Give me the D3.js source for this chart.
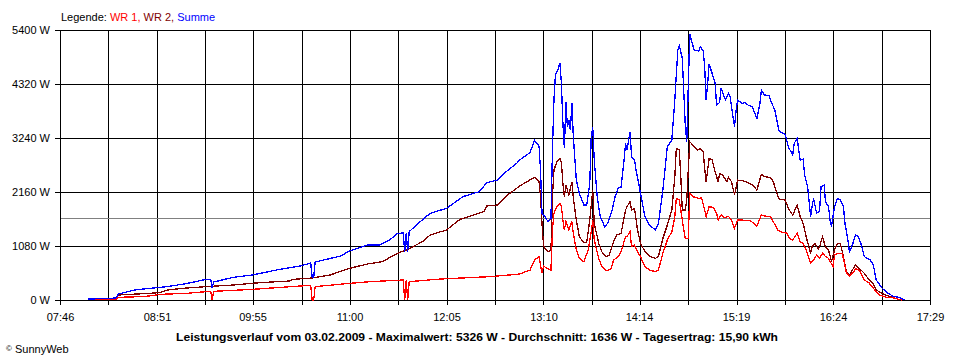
<!DOCTYPE html>
<html><head><meta charset="utf-8">
<script src="https://cdn.jsdelivr.net/npm/d3@7"></script>
<style>
body{margin:0;background:#fff}
text{font-family:Arial,"Liberation Sans",sans-serif;font-size:11px;fill:#000}
</style>
</head><body>
<svg id="chart" width="960" height="360"></svg>
<script>
const xTickLabels = ["07:46","08:51","09:55","11:00","12:05","13:10","14:14","15:19","16:24","17:29"];
const yTickValues = [0,1080,2160,3240,4320,5400];
const average = 1636;
const titleText = "Leistungsverlauf vom 03.02.2009 - Maximalwert: 5326 W - Durchschnitt: 1636 W - Tagesertrag: 15,90 kWh";
const seriesNames = ["WR 1","WR 2","Summe"];

const wr1 = [["08:06",10],["08:24",20],["08:25",53],["08:40",67],["08:46",80],["08:53",113],["09:11",133],["09:24",167],["09:27",167],["09:28",0],["09:29",173],["09:55",213],["10:27",280],["10:34",290],["10:35",0],["10:36",0],["10:37",267],["11:00",333],["11:14",367],["11:36",400],["11:37",0],["11:38",390],["11:39",0],["11:40",367],["12:01",420],["12:34",467],["12:52",513],["12:54",520],["13:01",600],["13:04",800],["13:07",867],["13:09",533],["13:10",680],["13:12",640],["13:15",600],["13:16",1400],["13:17",1733],["13:19",1867],["13:21",1933],["13:22",1870],["13:23",1600],["13:24",1400],["13:25",1567],["13:27",1400],["13:29",1567],["13:30",1333],["13:32",1000],["13:34",833],["13:37",767],["13:40",1000],["13:42",1367],["13:43",1600],["13:44",1200],["13:47",833],["13:49",667],["13:52",587],["13:55",610],["13:57",800],["14:00",867],["14:02",967],["14:05",1267],["14:06",1267],["14:08",1367],["14:09",1067],["14:11",1100],["14:13",967],["14:15",867],["14:18",667],["14:21",600],["14:25",567],["14:27",600],["14:30",933],["14:33",1200],["14:36",1367],["14:38",1667],["14:39",2033],["14:41",2000],["14:42",1800],["14:44",1400],["14:45",1233],["14:47",1233],["14:48",2133],["14:50",2067],["14:54",2033],["14:56",2040],["14:58",1800],["14:59",1667],["15:01",1867],["15:04",1850],["15:06",1733],["15:07",1600],["15:09",1700],["15:11",1650],["15:14",1670],["15:16",1600],["15:18",1433],["15:20",1600],["15:23",1600],["15:26",1590],["15:29",1580],["15:32",1500],["15:33",1480],["15:36",1700],["15:38",1680],["15:42",1670],["15:44",1567],["15:47",1400],["15:50",1347],["15:53",1340],["15:55",1233],["15:57",1200],["16:00",1333],["16:02",1167],["16:04",1133],["16:06",1000],["16:09",733],["16:11",800],["16:13",900],["16:15",833],["16:17",933],["16:19",870],["16:21",833],["16:24",667],["16:25",900],["16:27",933],["16:30",930],["16:31",833],["16:33",533],["16:35",480],["16:38",560],["16:39",633],["16:42",580],["16:45",400],["16:48",347],["16:52",200],["16:55",100],["17:00",53],["17:04",47],["17:08",13],["17:10",0]];

const wr2 = [["08:06",10],["08:24",33],["08:25",100],["08:46",133],["08:53",150],["08:58",200],["09:08",233],["09:24",267],["09:42",300],["10:00",347],["10:20",380],["10:22",413],["10:35",440],["10:47",500],["11:00",633],["11:12",720],["11:22",767],["11:32",933],["11:38",1000],["11:49",1167],["11:54",1300],["12:05",1400],["12:14",1613],["12:21",1680],["12:30",1767],["12:32",1880],["12:39",1900],["12:45",2080],["12:52",2233],["12:54",2280],["12:59",2367],["13:04",2453],["13:07",2367],["13:08",2067],["13:09",1533],["13:10",1100],["13:11",1033],["13:13",967],["13:15",1000],["13:16",2067],["13:17",2600],["13:19",2767],["13:21",2833],["13:22",2750],["13:23",2333],["13:24",2067],["13:25",2300],["13:27",2100],["13:29",2367],["13:30",2033],["13:32",1600],["13:34",1267],["13:37",1147],["13:39",1160],["13:41",1600],["13:43",2200],["13:44",1533],["13:47",1133],["13:49",967],["13:52",867],["13:54",900],["13:57",1167],["13:59",1300],["14:02",1333],["14:05",1800],["14:06",1867],["14:08",1967],["14:09",1800],["14:11",1830],["14:13",1400],["14:15",1133],["14:18",967],["14:21",880],["14:25",833],["14:27",867],["14:30",1233],["14:33",1500],["14:36",1800],["14:38",2467],["14:39",3033],["14:41",3000],["14:42",2467],["14:43",1800],["14:45",1800],["14:46",2000],["14:48",3167],["14:50",3100],["14:53",3000],["14:55",3030],["14:57",2967],["14:58",2633],["14:59",2367],["15:01",2833],["15:03",2800],["15:05",2567],["15:07",2367],["15:08",2530],["15:10",2500],["15:13",2367],["15:14",2450],["15:16",2367],["15:18",2100],["15:19",2233],["15:20",2400],["15:24",2380],["15:27",2350],["15:30",2300],["15:33",2200],["15:36",2513],["15:38",2470],["15:42",2450],["15:44",2367],["15:46",2167],["15:48",2013],["15:52",2000],["15:54",1833],["15:57",1700],["16:00",1900],["16:02",1667],["16:04",1533],["16:06",1267],["16:09",933],["16:10",1067],["16:12",1133],["16:14",1020],["16:15",1067],["16:17",1267],["16:19",1050],["16:21",1000],["16:23",767],["16:25",1000],["16:27",1133],["16:29",1120],["16:31",867],["16:33",567],["16:35",500],["16:37",600],["16:39",700],["16:41",650],["16:45",533],["16:48",413],["16:51",320],["16:53",200],["16:57",133],["17:01",80],["17:04",53],["17:08",13],["17:10",0]];

const summe = [["08:05",20],["08:20",30],["08:24",46],["08:25",120],["08:36",200],["08:46",233],["08:58",267],["09:11",330],["09:24",413],["09:27",413],["09:28",245],["09:29",360],["09:42",453],["09:55",500],["10:11",600],["10:27",680],["10:34",740],["10:35",450],["10:36",450],["10:37",760],["10:47",830],["10:54",880],["11:00",980],["11:12",1100],["11:20",1100],["11:27",1200],["11:32",1333],["11:36",1340],["11:37",970],["11:38",1340],["11:39",970],["11:40",1367],["11:46",1533],["11:54",1733],["12:05",1833],["12:16",2067],["12:27",2167],["12:32",2347],["12:39",2400],["12:45",2567],["12:52",2733],["12:54",2800],["13:01",2950],["13:04",3190],["13:07",3080],["13:08",2600],["13:09",1733],["13:11",1667],["13:13",1567],["13:15",1630],["13:16",3000],["13:17",4000],["13:18",4500],["13:20",4633],["13:21",4747],["13:22",4333],["13:23",3533],["13:24",3033],["13:25",3967],["13:26",3467],["13:27",3600],["13:28",3400],["13:29",3933],["13:30",3267],["13:32",2400],["13:34",2133],["13:37",1900],["13:39",1900],["13:41",2333],["13:42",3267],["13:43",3453],["13:44",2800],["13:46",2067],["13:48",1667],["13:51",1467],["13:53",1533],["13:56",1800],["13:58",2067],["14:00",2233],["14:02",2260],["14:04",2800],["14:05",3133],["14:06",3000],["14:07",3200],["14:08",3367],["14:09",2867],["14:11",2800],["14:12",2600],["14:14",2300],["14:15",2133],["14:18",1667],["14:21",1500],["14:25",1400],["14:27",1533],["14:30",2200],["14:33",3067],["14:36",3200],["14:38",4000],["14:40",5000],["14:41",5087],["14:43",4833],["14:44",4167],["14:45",3500],["14:46",3167],["14:48",5326],["14:49",5200],["14:51",5000],["14:54",4980],["14:55",5067],["14:57",4980],["14:58",4667],["14:59",4000],["15:00",4333],["15:01",4713],["15:03",4533],["15:05",4333],["15:06",3900],["15:08",3950],["15:09",4233],["15:11",4067],["15:12",4000],["15:14",4133],["15:15",4070],["15:17",3667],["15:18",3467],["15:19",3767],["15:20",4000],["15:23",3933],["15:25",3950],["15:27",3900],["15:30",3867],["15:32",3700],["15:33",3633],["15:35",3933],["15:36",4200],["15:38",4100],["15:41",4090],["15:43",3933],["15:45",3800],["15:47",3500],["15:48",3367],["15:52",3313],["15:54",3067],["15:57",2900],["15:58",3133],["16:00",3233],["16:02",2800],["16:04",2820],["16:05",2500],["16:07",2267],["16:09",1667],["16:10",1867],["16:11",2033],["16:13",1733],["16:15",1780],["16:16",2267],["16:18",2300],["16:19",1967],["16:21",1867],["16:22",1600],["16:23",1467],["16:25",1867],["16:27",2033],["16:29",2000],["16:31",1867],["16:32",1533],["16:34",1200],["16:35",967],["16:37",1100],["16:39",1300],["16:41",1270],["16:43",1100],["16:45",867],["16:49",800],["16:51",700],["16:53",400],["16:57",233],["17:01",133],["17:04",80],["17:08",53],["17:11",13],["17:12",0]];

const parseMin = s => { const [h,m] = s.split(":").map(Number); return h*60+m; };

const svg = d3.select("#chart");
const plotLeft = 60, plotRight = 930, plotTop = 30, plotBottom = 300;
const t0 = parseMin(xTickLabels[0]), t1 = parseMin(xTickLabels[xTickLabels.length-1]);
const x = d3.scaleLinear().domain([t0, t1]).range([plotLeft, plotRight]);
const y = d3.scaleLinear().domain([0, d3.max(yTickValues)]).range([plotBottom, plotTop]);

const nGrid = (xTickLabels.length - 1) * 2;
const gridTimes = d3.range(nGrid + 1).map(i => t0 + i * (t1 - t0) / nGrid);

const g = svg.append("g").attr("shape-rendering","crispEdges");
g.selectAll("line.vx").data(gridTimes).join("line")
  .attr("x1", d => Math.round(x(d)) + 0.5).attr("x2", d => Math.round(x(d)) + 0.5)
  .attr("y1", plotTop).attr("y2", plotBottom + 5)
  .attr("stroke", "#000");
g.selectAll("line.hy").data(yTickValues).join("line")
  .attr("x1", plotLeft - 5).attr("x2", plotRight + 0.5)
  .attr("y1", d => Math.round(y(d)) + 0.5).attr("y2", d => Math.round(y(d)) + 0.5)
  .attr("stroke", "#000");

svg.selectAll("text.yl").data(yTickValues).join("text")
  .attr("x", 50).attr("y", d => y(d) + 4)
  .attr("text-anchor", "end").text(d => d + " W");

svg.selectAll("text.xl").data(xTickLabels).join("text")
  .attr("x", d => x(parseMin(d)) + 0.5).attr("y", 321)
  .attr("text-anchor", "middle").text(d => d);

svg.append("line").attr("shape-rendering","crispEdges")
  .attr("x1", plotLeft + 1).attr("x2", plotRight)
  .attr("y1", Math.round(y(average)) + 0.5).attr("y2", Math.round(y(average)) + 0.5)
  .attr("stroke", "#808080");

const line = d3.line().x(d => x(parseMin(d[0]))).y(d => y(d[1]));
const series = [[wr2, "#800000"], [wr1, "#ff0000"], [summe, "#0000ff"]];
series.forEach(([data, color]) => {
  svg.append("path").datum(data).attr("d", line)
    .attr("fill", "none").attr("stroke", color).attr("stroke-width", 1.3)
    .attr("shape-rendering", "crispEdges")
    .attr("stroke-linejoin", "miter");
});

const lg = svg.append("text").attr("x", 61).attr("y", 21);
lg.append("tspan").text("Legende: ");
lg.append("tspan").style("fill", "#ff0000").text(seriesNames[0] + ", ");
lg.append("tspan").style("fill", "#800000").text(seriesNames[1] + ", ");
lg.append("tspan").style("fill", "#0000ff").text(seriesNames[2]);

svg.append("text").attr("x", 477).attr("y", 341).attr("text-anchor", "middle")
  .style("font-weight", "bold").attr("textLength", 602).attr("lengthAdjust", "spacingAndGlyphs")
  .text(titleText);

const cp = svg.append("text").attr("x", 6).attr("y", 353);
cp.append("tspan").style("font-size", "8px").attr("dy", -2).text("©");
cp.append("tspan").attr("dy", 2).text(" SunnyWeb");
</script>
</body></html>
